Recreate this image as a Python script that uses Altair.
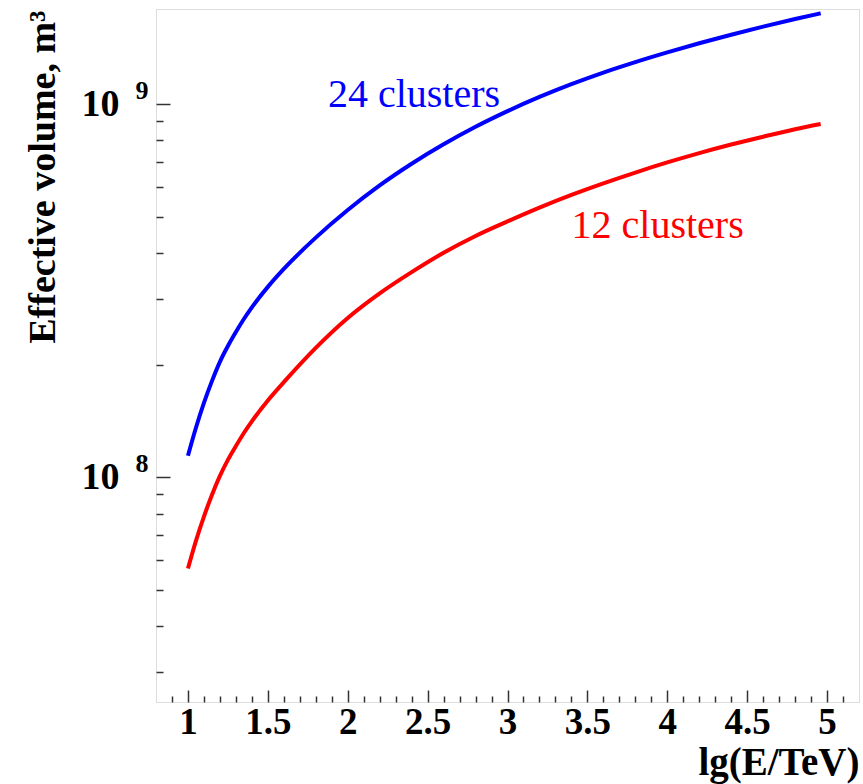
import altair as alt
import pandas as pd

# lg(E/TeV) sampling points
energy = [1.0, 1.05, 1.1, 1.15, 1.2, 1.25, 1.3, 1.35, 1.4, 1.5, 1.6, 1.8, 2.0,
          2.2, 2.4, 2.6, 2.8, 3.0, 3.2, 3.4, 3.6, 3.8, 4.0, 4.2, 4.4, 4.6,
          4.8, 4.96]

# effective volume, m^3
veff_24 = [1.143e8, 1.358e8, 1.583e8, 1.811e8, 2.040e8, 2.249e8, 2.452e8,
           2.657e8, 2.855e8, 3.240e8, 3.619e8, 4.390e8, 5.206e8, 6.060e8,
           6.927e8, 7.808e8, 8.700e8, 9.583e8, 1.046e9, 1.132e9, 1.216e9,
           1.297e9, 1.377e9, 1.457e9, 1.536e9, 1.614e9, 1.692e9, 1.753e9]
veff_12 = [5.70e7, 6.76e7, 7.85e7, 8.97e7, 1.009e8, 1.114e8, 1.213e8,
           1.315e8, 1.413e8, 1.607e8, 1.799e8, 2.223e8, 2.673e8, 3.112e8,
           3.548e8, 3.999e8, 4.436e8, 4.853e8, 5.284e8, 5.715e8, 6.138e8,
           6.561e8, 6.982e8, 7.396e8, 7.798e8, 8.185e8, 8.570e8, 8.851e8]

series_names = ["24 clusters", "12 clusters"]
series_colors = ["#0000ff", "#ff0000"]

# where each series name is written
label_lgE = [1.876, 3.401]
label_veff = [9.85e8, 4.375e8]

x_major = [1, 1.5, 2, 2.5, 3, 3.5, 4, 4.5, 5]
x_minor = [0.9, 1.1, 1.2, 1.3, 1.4, 1.6, 1.7, 1.8, 1.9, 2.1, 2.2, 2.3, 2.4,
           2.6, 2.7, 2.8, 2.9, 3.1, 3.2, 3.3, 3.4, 3.6, 3.7, 3.8, 3.9, 4.1,
           4.2, 4.3, 4.4, 4.6, 4.7, 4.8, 4.9, 5.1]
y_major = [1e8, 1e9]
y_minor = [3e7, 4e7, 5e7, 6e7, 7e7, 8e7, 9e7,
           2e8, 3e8, 4e8, 5e8, 6e8, 7e8, 8e8, 9e8]

curves = pd.DataFrame({
    "lgE": energy * 2,
    "veff": veff_24 + veff_12,
    "series": [series_names[0]] * len(energy) + [series_names[1]] * len(energy),
})
labels = pd.DataFrame({"lgE": label_lgE, "veff": label_veff,
                       "series": series_names})

FONT = "Liberation Serif"
TICK = "#333333"

xscale = alt.Scale(domain=[0.8, 5.2], nice=False, zero=False)
yscale = alt.Scale(type="log", domain=[2.5e7, 1.8e9], nice=False)
color = alt.Color("series:N", scale=alt.Scale(domain=series_names,
                                             range=series_colors), legend=None)

# ROOT-style frame: ticks point into the plot, so each axis is pulled
# inside by its own tick length
x_major_axis = alt.Axis(values=x_major, format="~g", orient="bottom",
                        offset=-12, tickSize=12, tickColor=TICK, tickWidth=1.5,
                        domain=False, grid=False, labelFont=FONT,
                        labelFontSize=37, labelFontWeight="bold",
                        labelColor="black", labelPadding=2, labelFlush=False,
                        labelOverlap=False, title="lg(E/TeV)", titleFont=FONT,
                        titleFontSize=39, titleFontWeight="bold",
                        titleColor="black", titleAlign="right",
                        titleBaseline="alphabetic", titleX=703, titleY=84)
x_minor_axis = alt.Axis(values=x_minor, orient="bottom", offset=-6, tickSize=6,
                        tickColor=TICK, tickWidth=1.5, domain=False, grid=False,
                        labels=False, title=None)

y_major_axis = alt.Axis(values=y_major, labelExpr="'10'", orient="left",
                        offset=-14, tickSize=14, tickColor=TICK, tickWidth=1.5,
                        domain=False, grid=False, labelFont=FONT,
                        labelFontSize=38, labelFontWeight="bold",
                        labelColor="black", labelPadding=37,
                        labelBaseline="middle", labelFlush=False, title=None)
y_minor_axis = alt.Axis(values=y_minor, orient="left", offset=-7, tickSize=7,
                        tickColor=TICK, tickWidth=1.5, domain=False, grid=False,
                        labels=False, title=None)
y_exp_axis = alt.Axis(values=y_major,
                      labelExpr="format(log(datum.value) / log(10), '.0f')",
                      orient="left", offset=0, ticks=False, domain=False,
                      grid=False, labelFont=FONT, labelFontSize=26,
                      labelFontWeight="bold", labelColor="black",
                      labelPadding=8, labelOffset=-14, labelBaseline="middle",
                      labelFlush=False, title="Effective volume, m³",
                      titleFont=FONT, titleFontSize=38, titleFontWeight="bold",
                      titleColor="black", titleAngle=270, titleAlign="right",
                      titleBaseline="alphabetic", titleX=-102, titleY=1)

base = alt.Chart(curves)

line24 = base.transform_filter(
    alt.datum.series == series_names[0]
).mark_line(strokeWidth=4, interpolate="monotone").encode(
    x=alt.X("lgE:Q", scale=xscale, axis=x_major_axis),
    y=alt.Y("veff:Q", scale=yscale, axis=y_major_axis),
    color=color,
)

line12 = base.transform_filter(
    alt.datum.series == series_names[1]
).mark_line(strokeWidth=4, interpolate="monotone").encode(
    x=alt.X("lgE:Q", scale=xscale, axis=x_minor_axis),
    y=alt.Y("veff:Q", scale=yscale, axis=y_minor_axis),
    color=color,
)

names = alt.Chart(labels).mark_text(
    font=FONT, fontSize=40, align="left", baseline="alphabetic"
).encode(
    x=alt.X("lgE:Q", scale=xscale, axis=None),
    y=alt.Y("veff:Q", scale=yscale, axis=y_exp_axis),
    text="series:N",
    color=color,
)

chart = alt.layer(line24, line12, names).resolve_axis(
    x="independent", y="independent"
).properties(
    width=703, height=693,
    autosize=alt.AutoSizeParams(type="none"),
    padding={"left": 156, "top": 9, "right": 4, "bottom": 82},
).configure_view(
    stroke="#333333", strokeWidth=2
).configure(background="white")

chart.save("out.html", embed_options={"renderer": "svg", "actions": False})
